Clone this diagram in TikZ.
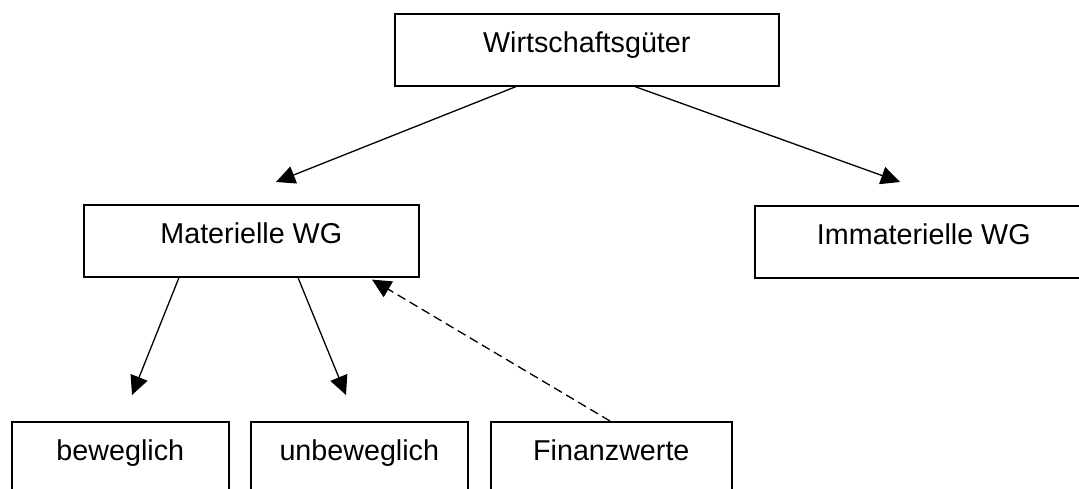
\documentclass[tikz,border=0pt]{standalone}
\usepackage{fontspec}
\setmainfont{Liberation Sans}
\usetikzlibrary{arrows.meta}
\begin{document}
\begin{tikzpicture}[x=1pt,y=-1pt,
  box/.style={draw,line width=1.6pt,rectangle,inner sep=0pt,anchor=north west,
    text height=39pt,text depth=33pt,font=\fontsize{28.7}{34}\selectfont},
  arr/.style={line width=1.3pt,-{Triangle[length=19pt,width=18pt]}},
  darr/.style={arr,dash pattern=on 9pt off 5pt}]
\useasboundingbox (0,0) rectangle (1079,488);
\clip (0,0) rectangle (1079,488);
\fill[white] (0,0) rectangle (1079,488);
\node[box,minimum width=384pt] (w) at (394,13) {Wirtschaftsgüter};
\node[box,minimum width=335pt] (m) at (83,204) {Materielle WG};
\node[box,minimum width=338pt] (i) at (754,205) {Immaterielle WG};
\node[box,minimum width=217pt] (b) at (11,421) {beweglich};
\node[box,minimum width=217pt] (u) at (250,421) {unbeweglich};
\node[box,minimum width=241pt] (f) at (490,421) {Finanzwerte};
\draw[arr] ([xshift=122pt]w.south west) -- ([xshift=193pt,yshift=22pt]m.north west);
\draw[arr] ([xshift=241pt]w.south west) -- ([xshift=146pt,yshift=23pt]i.north west);
\draw[arr] ([xshift=96pt]m.south west) -- ([xshift=121pt,yshift=26pt]b.north west);
\draw[arr] ([xshift=215pt]m.south west) -- ([xshift=96pt,yshift=26pt]u.north west);
\draw[darr] ([xshift=120pt]f.north west) -- ([xshift=289pt,yshift=-2pt]m.south west);
\end{tikzpicture}
\end{document}
